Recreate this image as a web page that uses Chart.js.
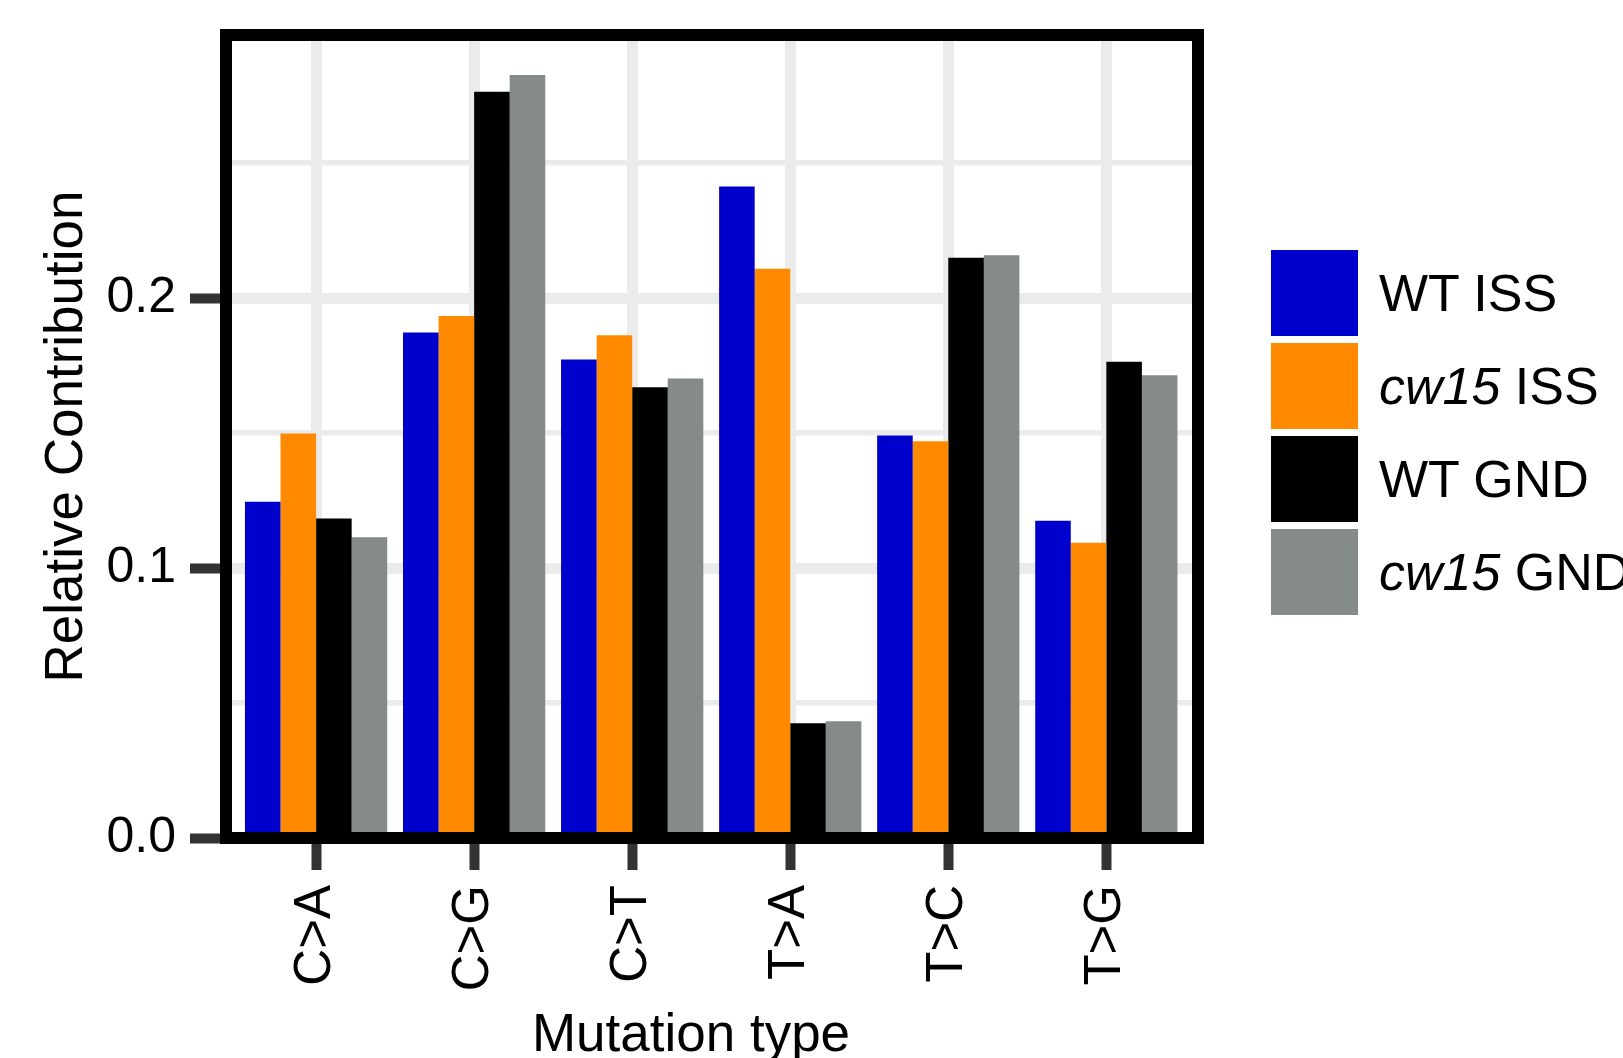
<!DOCTYPE html>
<html>
<head>
<meta charset="utf-8">
<script src="https://cdn.jsdelivr.net/npm/chart.js@4/dist/chart.umd.min.js"></script>
<style>
html, body { margin: 0; padding: 0; background: #fff; overflow: hidden; }
#wrap { position: relative; width: 1623px; height: 1058px; }
#c { position: absolute; left: 0; top: 0; }
#legend { position: absolute; left: 1271px; top: 250px; font-family: "Liberation Sans", Arial, sans-serif; font-size: 52px; color: #000; white-space: nowrap; }
.item { display: flex; align-items: center; height: 86px; margin-bottom: 7px; }
.key { width: 87px; height: 86px; margin-right: 21px; flex: none; }
</style>
</head>
<body>
<div id="wrap">
  <canvas id="c" width="1623" height="1058"></canvas>
  <div id="legend"></div>
</div>
<script>
// ---- data ----
const categories = ['C>A', 'C>G', 'C>T', 'T>A', 'T>C', 'T>G'];
const seriesNames = ['WT ISS', 'cw15 ISS', 'WT GND', 'cw15 GND'];
const wtISS   = [0.1246, 0.1873, 0.1773, 0.2414, 0.1491, 0.1175];
const cw15ISS = [0.1499, 0.1934, 0.1863, 0.2109, 0.1470, 0.1094];
const wtGND   = [0.1184, 0.2765, 0.1670, 0.0425, 0.2150, 0.1764];
const cw15GND = [0.1114, 0.2827, 0.1702, 0.0433, 0.2159, 0.1714];
const seriesColors = ['#0000CC', '#FF8A00', '#000000', '#858B89'];
const yMajorStep = 0.1;
const yMinorStep = 0.05;
const xTitle = 'Mutation type';
const yTitle = 'Relative Contribution';

const FONT = "'Liberation Sans', Arial, sans-serif";
const seriesValues = [wtISS, cw15ISS, wtGND, cw15GND];

const isMajor = v => Math.abs(v / yMajorStep - Math.round(v / yMajorStep)) < 1e-6;

const datasets = seriesValues.map((vals, i) => ({
  label: seriesNames[i],
  data: vals.map((v, j) => ({ x: j + 1, y: v })),
  backgroundColor: seriesColors[i],
  borderWidth: 0,
  categoryPercentage: 0.9,
  barPercentage: 1.0
}));

const panelBorder = {
  id: 'panelBorder',
  afterDatasetsDraw(chart) {
    const { ctx, chartArea: a } = chart;
    ctx.save();
    ctx.strokeStyle = '#000';
    ctx.lineWidth = 12;
    ctx.lineJoin = 'miter';
    ctx.strokeRect(a.left, a.top, a.right - a.left, a.bottom - a.top);
    ctx.restore();
  },
  afterDraw(chart) {
    const { ctx, chartArea: a } = chart;
    ctx.save();
    ctx.fillStyle = '#000';
    ctx.font = '53px ' + FONT;
    ctx.textAlign = 'center';
    ctx.textBaseline = 'middle';
    ctx.fillText(xTitle, (a.left + a.right) / 2 - 21, chart.height - 22);
    ctx.restore();
  }
};

new Chart(document.getElementById('c'), {
  type: 'bar',
  data: { datasets },
  plugins: [panelBorder],
  options: {
    responsive: false,
    animation: false,
    devicePixelRatio: 1,
    layout: { padding: { left: 0, top: 35, right: 425, bottom: 0 } },
    plugins: { legend: { display: false }, tooltip: { enabled: false } },
    scales: {
      x: {
        type: 'linear',
        min: 0.43,
        max: 6.58,
        offset: false,
        border: { display: false },
        grid: {
          offset: false,
          color: '#EBEBEB',
          lineWidth: 11,
          drawTicks: true,
          tickColor: '#333333',
          tickWidth: 10,
          tickLength: 32
        },
        ticks: {
          stepSize: 1,
          includeBounds: false,
          autoSkip: false,
          minRotation: 90,
          maxRotation: 90,
          padding: 15,
          color: '#000',
          font: { family: FONT, size: 51 },
          callback: v => categories[Math.round(v) - 1] || ''
        },
        afterFit: s => { s.height = 220; s.paddingLeft = 0; s.paddingRight = 0; }
      },
      y: {
        type: 'linear',
        min: 0,
        max: 0.2975,
        border: { display: false },
        grid: {
          color: '#EBEBEB',
          lineWidth: c => (c.tick && isMajor(c.tick.value)) ? 11 : 5.5,
          drawTicks: true,
          tickColor: c => (c.tick && isMajor(c.tick.value)) ? '#333333' : 'rgba(0,0,0,0)',
          tickWidth: 10,
          tickLength: 36
        },
        ticks: {
          stepSize: yMinorStep,
          includeBounds: false,
          autoSkip: false,
          padding: 14,
          color: '#000',
          font: { family: FONT, size: 50, lineHeight: 0.8 },
          callback: v => isMajor(v) ? v.toFixed(1) : ''
        },
        title: {
          display: true,
          text: yTitle,
          color: '#000',
          font: { family: FONT, size: 53, lineHeight: 0.8 },
          padding: { top: 46, bottom: 0 }
        },
        afterFit: s => { s.width = 226; s.paddingTop = 0; s.paddingBottom = 0; }
      }
    }
  }
});

// ---- legend (HTML, built from series arrays) ----
const legend = document.getElementById('legend');
seriesNames.forEach((name, i) => {
  const item = document.createElement('div');
  item.className = 'item';
  const key = document.createElement('div');
  key.className = 'key';
  key.style.background = seriesColors[i];
  const label = document.createElement('span');
  const m = name.match(/^(cw15)(\s.*)$/);
  if (m) {
    const it = document.createElement('i');
    it.textContent = m[1];
    label.appendChild(it);
    label.appendChild(document.createTextNode(m[2]));
  } else {
    label.textContent = name;
  }
  item.appendChild(key);
  item.appendChild(label);
  legend.appendChild(item);
});
</script>
</body>
</html>
